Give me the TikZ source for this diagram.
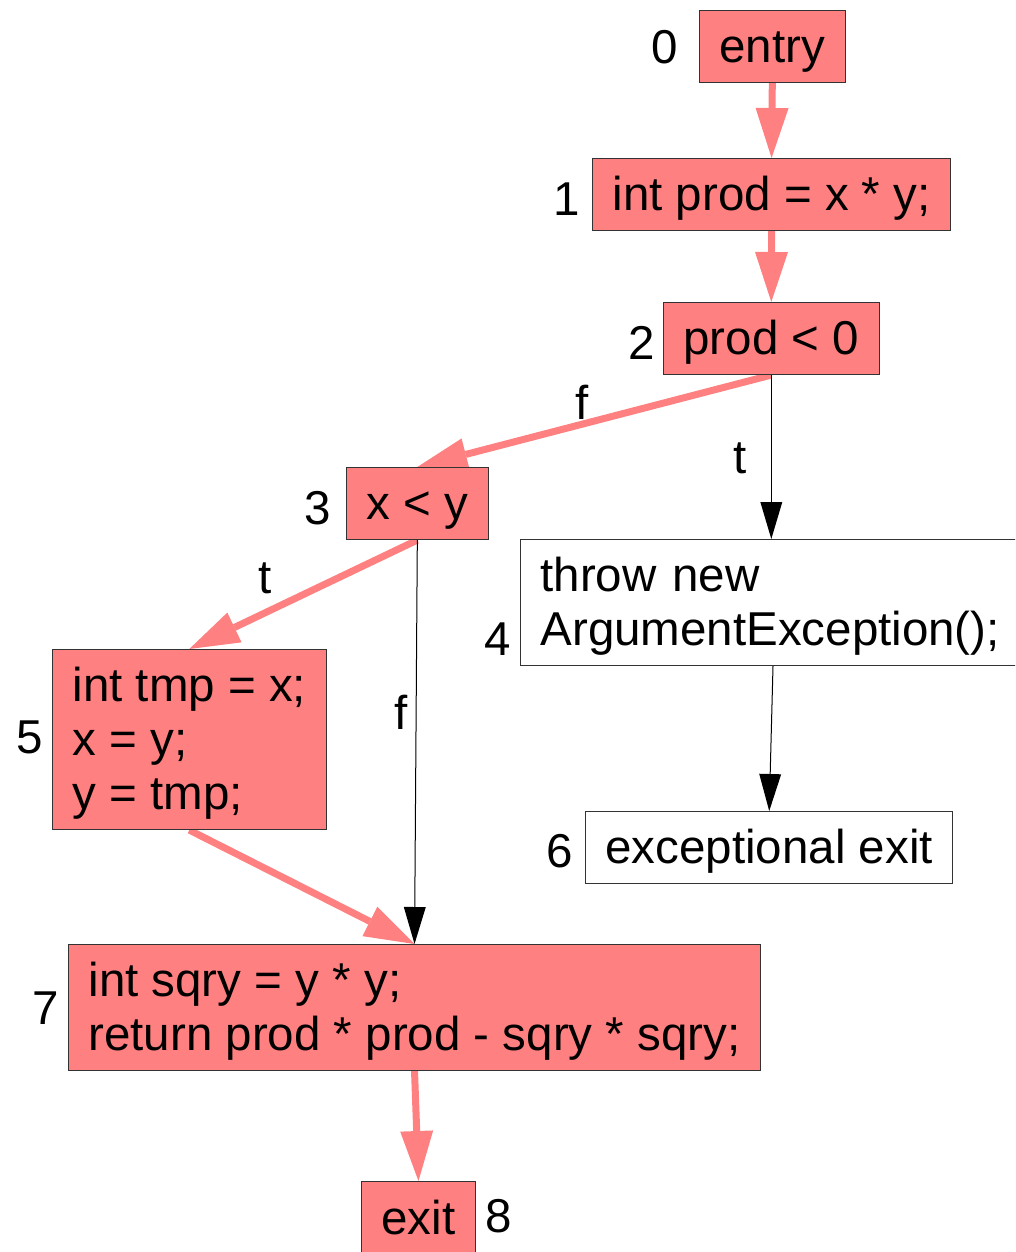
\documentclass[tikz,border=0pt]{standalone}
\usepackage{fontspec}
\setmainfont{Liberation Sans}
\usetikzlibrary{arrows.meta}
\definecolor{pinkfill}{HTML}{FF8080}
\definecolor{boxline}{HTML}{333333}
\newcommand\bstrut{\rule[-0.212em]{0pt}{1.117em}}
\pgfdeclarelayer{background}
\pgfsetlayers{background,main}
\begin{document}
\begin{tikzpicture}[x=1pt,y=-1pt,
  every node/.style={font=\fontsize{47.5}{54}\selectfont},
  cbox/.style={draw=boxline, line width=1pt, fill=pinkfill, inner xsep=20pt, inner ysep=9.5pt, anchor=north west, align=left},
  wbox/.style={cbox, fill=white},
  num/.style={inner sep=0pt, anchor=base},
  hot/.style={draw=pinkfill, line width=7pt, -{Triangle[length=50pt,width=33pt,line width=0pt]}},
  cold/.style={draw=black, line width=1pt, -{Triangle[length=37pt,width=22pt,line width=0pt]}},
]
\clip (0,0) rectangle (1015,1252);
% boxes
\node[cbox] (n0) at (699,10) {\bstrut entry};
\node[cbox] (n1) at (592,158) {\bstrut int prod = x * y;};
\node[cbox] (n2) at (663,302) {\bstrut prod < 0};
\node[cbox] (n3) at (346,467) {\bstrut x < y};
\node[wbox, text width=465pt] (n4) at (520,539) {\bstrut throw new\\\bstrut ArgumentException();};
\node[cbox] (n5) at (52,649) {\bstrut int tmp = x;\\\bstrut x = y;\\\bstrut y = tmp;};
\node[wbox] (n6) at (585,811) {\bstrut exceptional exit};
\node[cbox] (n7) at (68,944) {\bstrut int sqry = y * y;\\\bstrut return prod * prod - sqry * sqry;};
\node[cbox] (n8) at (361,1181) {\bstrut exit};
% numbers
\node[num] (l0) at (665,64) {0};
\node[num] (l1) at (567,215) {1};
\node[num] (l2) at (642,359) {2};
\node[num] (l3) at (318,524) {3};
\node[num] (l4) at (498,655) {4};
\node[num] (l5) at (30,753) {5};
\node[num] (l6) at (559.5,867) {6};
\node[num] (l7) at (45.5,1024) {7};
\node[num] (l8) at (498.5,1232) {8};
% edge labels
\node[num] (ef1) at (582,419) {f};
\node[num] (et1) at (740,473) {t};
\node[num] (et2) at (265,593) {t};
\node[num] (ef2) at (401,729) {f};
% edges
\begin{pgfonlayer}{background}
\draw[hot] (n0.south) -- (n1.north);
\draw[hot] (n1.south) -- (n2.north);
\draw[hot] (n2.south) -- (n3.north);
\draw[cold] (n2.south) -- (n2.south |- n4.north);
\draw[hot] (n3.south) -- (n5.north);
\draw[cold] (n3.south) -- (n7.north);
\draw[cold] (n4.south) -- (n6.north);
\draw[hot] (n5.south) -- (n7.north);
\draw[hot] (n7.south) -- (n8.north);
\end{pgfonlayer}
\end{tikzpicture}
\end{document}
